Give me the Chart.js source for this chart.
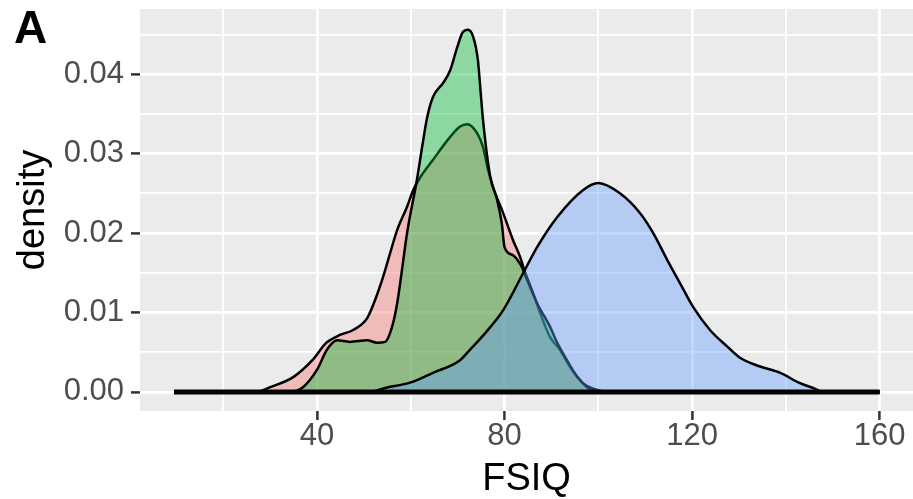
<!DOCTYPE html>
<html>
<head>
<meta charset="utf-8">
<script src="https://cdn.jsdelivr.net/npm/chart.js@4/dist/chart.umd.min.js"></script>
<style>
  html, body { margin: 0; padding: 0; background: #fff; }
  #wrap { width: 913px; height: 499px; }
</style>
</head>
<body>
<div id="wrap"><canvas id="densityChart" width="913" height="499"></canvas></div>
<script>
// FSIQ density curves, one per group (x = FSIQ, y = density)
const redX = [9.5, 27, 30, 35, 39, 42, 45, 47.7, 50.7, 52.4, 54.1, 55.6, 57.1, 59.2, 60.5, 62, 64.7, 68.4, 70.5, 72,
              74.1, 75.4, 76.5, 77.5, 79.7, 81.8, 83.3, 84.4, 86.1, 87.6, 89.7, 91.8, 94, 96.7, 98.9, 102, 160];
const redY = [0, 0, 0.0006, 0.0019, 0.004, 0.0062, 0.0072, 0.0078, 0.0093, 0.0116, 0.0145, 0.0175, 0.0204, 0.0233, 0.0254, 0.027, 0.0292, 0.0321, 0.0334, 0.0337,
              0.0326, 0.0308, 0.0279, 0.0258, 0.0225, 0.0191, 0.017, 0.015, 0.0124, 0.0099, 0.0069, 0.0053, 0.0031, 0.0011, 0.0004, 0, 0];

const greenX = [9.5, 34, 37, 40, 42.1, 44.3, 47, 50.7, 52.8, 54.5, 56, 57.1, 58.1, 59.2, 61.3, 62.4, 63.5, 64.7, 66.9, 68.4,
                69.9, 71.1, 72.2, 73.3, 74.3, 74.8, 75.4, 76.9, 78.4, 79.4, 80, 81.8, 83.7, 84.4, 86.9, 89.7, 91.2, 93.3, 95.5, 97.6, 100, 160];
const greenY = [0, 0, 0.0006, 0.0028, 0.0053, 0.0065, 0.0063, 0.0065, 0.0062, 0.0063, 0.0082, 0.0112, 0.0153, 0.02, 0.0267, 0.0308, 0.0346, 0.0371, 0.0389, 0.0405,
                0.0434, 0.0453, 0.0456, 0.0447, 0.0418, 0.0384, 0.0342, 0.0272, 0.0242, 0.0212, 0.0182, 0.0172, 0.0157, 0.0147, 0.0112, 0.0082, 0.0062, 0.004, 0.0019, 0.0006, 0, 0];

const blueX = [9.5, 51, 54.5, 60, 64.7, 70.5, 72.6, 76, 79.7, 84, 86.9, 91.2, 96.7, 100, 104.6, 108.9, 111.7, 114.7, 117.4, 120.2,
               123.8, 127.5, 130.2, 134.5, 138.8, 143, 145.8, 148, 160];
const blueY = [0, 0, 0.0005, 0.0012, 0.0024, 0.004, 0.0053, 0.0075, 0.0103, 0.015, 0.0182, 0.022, 0.0254, 0.0263, 0.025, 0.0225, 0.02, 0.0166, 0.0137, 0.0107,
               0.0078, 0.0057, 0.0043, 0.0032, 0.0024, 0.0011, 0.0005, 0, 0];

// shared zero line under all three curves
const baseX = [9.5, 160];
const baseY = [0, 0];

const xTicks = [40, 80, 120, 160];
const xMinor = [20, 60, 100, 140];
const yTicks = [0, 0.01, 0.02, 0.03, 0.04];
const yMinor = [0.005, 0.015, 0.025, 0.035, 0.045];

const pts = (xs, ys) => xs.map((x, i) => ({ x: x, y: ys[i] }));
const FONT = "'Liberation Sans', Arial, sans-serif";

const panelBg = {
    id: 'panelBg',
    beforeDraw(chart) {
        const { ctx, chartArea: a } = chart;
        ctx.save();
        ctx.fillStyle = '#EBEBEB';
        ctx.fillRect(a.left, a.top, a.right - a.left, a.bottom - a.top);
        ctx.restore();
    }
};

// panel tag in the top-left corner
const panelTag = {
    id: 'panelTag',
    afterDraw(chart) {
        const ctx = chart.ctx;
        ctx.save();
        ctx.fillStyle = '#000';
        ctx.font = 'bold 46px ' + FONT;
        ctx.textBaseline = 'alphabetic';
        ctx.fillText('A', 14, 43);
        ctx.restore();
    }
};

function curve(data, fillColor, order) {
    return {
        data: data,
        borderColor: '#000',
        borderWidth: 2.5,
        backgroundColor: fillColor,
        fill: 'origin',
        pointRadius: 0,
        cubicInterpolationMode: 'monotone',
        order: order
    };
}

const isMajorX = v => xTicks.includes(v);
const isMajorY = v => yTicks.includes(v);

new Chart(document.getElementById('densityChart'), {
    type: 'line',
    data: {
        datasets: [
            curve(pts(redX, redY), 'rgba(248,118,109,0.4)', 3),
            curve(pts(greenX, greenY), 'rgba(0,186,56,0.4)', 2),
            curve(pts(blueX, blueY), 'rgba(97,156,255,0.4)', 1),
            { data: pts(baseX, baseY), borderColor: '#000', borderWidth: 5, pointRadius: 0, fill: false, order: 0 }
        ]
    },
    options: {
        responsive: false,
        animation: false,
        devicePixelRatio: 1,
        layout: { padding: { top: 9, left: 0, right: 0, bottom: 0 } },
        plugins: { legend: { display: false }, tooltip: { enabled: false } },
        scales: {
            x: {
                type: 'linear',
                min: 2.24,
                max: 167.1,
                border: { display: false },
                afterBuildTicks: s => { s.ticks = xMinor.concat(xTicks).sort((a, b) => a - b).map(v => ({ value: v })); },
                afterFit: s => { s.height = 88; s.paddingLeft = 0; s.paddingRight = 0; },
                grid: {
                    color: '#FFFFFF',
                    lineWidth: c => isMajorX(c.tick.value) ? 2.8 : 1.8,
                    drawTicks: true,
                    tickLength: 9,
                    tickWidth: 2.5,
                    tickColor: c => isMajorX(c.tick.value) ? '#333333' : 'rgba(0,0,0,0)'
                },
                ticks: {
                    autoSkip: false,
                    maxRotation: 0,
                    padding: 1,
                    color: '#4D4D4D',
                    font: { family: FONT, size: 31, lineHeight: 1 },
                    callback: v => isMajorX(v) ? String(v) : ''
                },
                title: {
                    display: true,
                    text: 'FSIQ',
                    color: '#000',
                    font: { family: FONT, size: 38, lineHeight: 1 },
                    padding: { top: 0, bottom: 0 }
                }
            },
            y: {
                type: 'linear',
                min: -0.0024,
                max: 0.0482,
                border: { display: false },
                afterBuildTicks: s => { s.ticks = yTicks.concat(yMinor).sort((a, b) => a - b).map(v => ({ value: v })); },
                afterFit: s => { s.width = 140; s.paddingTop = 0; s.paddingBottom = 0; },
                grid: {
                    color: '#FFFFFF',
                    lineWidth: c => isMajorY(c.tick.value) ? 2.8 : 1.8,
                    drawTicks: true,
                    tickLength: 9,
                    tickWidth: 2.5,
                    tickColor: c => isMajorY(c.tick.value) ? '#333333' : 'rgba(0,0,0,0)'
                },
                ticks: {
                    autoSkip: false,
                    padding: 7,
                    color: '#4D4D4D',
                    font: { family: FONT, size: 31, lineHeight: 1 },
                    callback: v => isMajorY(v) ? v.toFixed(2) : ''
                },
                title: {
                    display: true,
                    text: 'density',
                    color: '#000',
                    font: { family: FONT, size: 38, lineHeight: 1 },
                    padding: { top: 15, bottom: 0 }
                }
            }
        }
    },
    plugins: [panelBg, panelTag]
});
</script>
</body>
</html>
